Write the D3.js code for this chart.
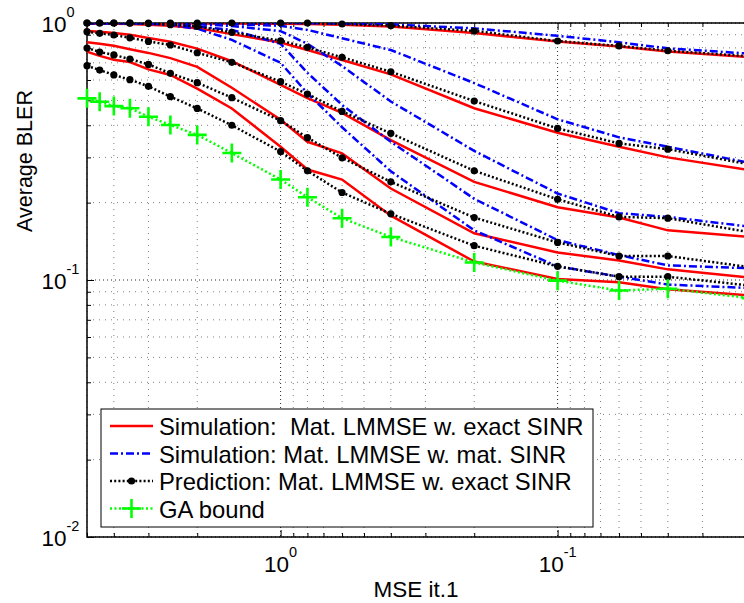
<!DOCTYPE html>
<html>
<head>
<meta charset="utf-8">
<script src="https://cdn.jsdelivr.net/npm/d3@7/dist/d3.min.js"></script>
<style>
  html, body { margin: 0; padding: 0; background: #fff; }
  svg { display: block; font-family: "Liberation Sans", Arial, Helvetica, sans-serif; }
  .pre { white-space: pre; }
</style>
</head>
<body>
<svg id="chart" width="744" height="603"></svg>
<script>
// Channel-estimation MSE after iteration 1 (x axis, decreasing to the right)
const mse = [5, 4.5, 4, 3.5, 3, 2.5, 2, 1.5, 1, 0.8, 0.6, 0.4, 0.2, 0.1, 0.06, 0.04, 0.02];

// Simulation: Mat. LMMSE w. exact SINR (five operating points)
const simExact = [
  [0.998, 0.998, 0.998, 0.998, 0.998, 0.997, 0.996, 0.995, 0.993, 0.99, 0.985, 0.97, 0.914, 0.848, 0.81, 0.775, 0.735],
  [0.995, 0.995, 0.993, 0.99, 0.985, 0.975, 0.955, 0.905, 0.84, 0.785, 0.718, 0.631, 0.466, 0.374, 0.33, 0.30, 0.267],
  [0.93, 0.925, 0.915, 0.90, 0.875, 0.846, 0.795, 0.71, 0.575, 0.51, 0.447, 0.35, 0.241, 0.192, 0.175, 0.156, 0.147],
  [0.841, 0.83, 0.815, 0.79, 0.765, 0.73, 0.675, 0.56, 0.42, 0.345, 0.311, 0.227, 0.152, 0.128, 0.119, 0.11, 0.102],
  [0.773, 0.745, 0.72, 0.705, 0.66, 0.628, 0.555, 0.465, 0.33, 0.269, 0.246, 0.178, 0.118, 0.101, 0.098, 0.092, 0.087]
];

// Simulation: Mat. LMMSE w. mat. SINR
const simMat = [
  [1, 1, 1, 1, 1, 1, 1, 1, 1, 0.998, 0.995, 0.988, 0.953, 0.892, 0.841, 0.797, 0.759],
  [1, 1, 1, 1, 1, 1, 0.997, 0.99, 0.975, 0.94, 0.872, 0.785, 0.584, 0.422, 0.359, 0.330, 0.285],
  [1, 1, 1, 1, 1, 0.998, 0.99, 0.973, 0.93, 0.83, 0.68, 0.495, 0.318, 0.217, 0.182, 0.176, 0.161],
  [1, 1, 1, 1, 0.998, 0.99, 0.97, 0.94, 0.83, 0.64, 0.48, 0.345, 0.207, 0.143, 0.125, 0.114, 0.111],
  [1, 1, 1, 1, 0.995, 0.98, 0.95, 0.86, 0.70, 0.533, 0.393, 0.265, 0.156, 0.113, 0.103, 0.096, 0.093]
];

// Prediction: Mat. LMMSE w. exact SINR
const prediction = [
  [1, 1, 1, 1, 1, 1, 1, 1, 1, 1, 0.991, 0.976, 0.931, 0.851, 0.814, 0.780, 0.741],
  [1, 1, 1, 0.998, 0.995, 0.985, 0.97, 0.92, 0.853, 0.804, 0.735, 0.646, 0.497, 0.389, 0.340, 0.323, 0.281],
  [0.925, 0.912, 0.898, 0.876, 0.848, 0.821, 0.766, 0.703, 0.591, 0.529, 0.453, 0.372, 0.266, 0.206, 0.176, 0.174, 0.153],
  [0.799, 0.771, 0.751, 0.724, 0.69, 0.637, 0.586, 0.512, 0.417, 0.358, 0.299, 0.241, 0.175, 0.140, 0.124, 0.124, 0.112],
  [0.682, 0.656, 0.628, 0.602, 0.567, 0.517, 0.465, 0.40, 0.316, 0.266, 0.219, 0.181, 0.136, 0.113, 0.103, 0.103, 0.095]
];

// GA bound
const gaBound = [0.509, 0.494, 0.475, 0.466, 0.432, 0.401, 0.367, 0.312, 0.246, 0.210, 0.174, 0.147, 0.117, 0.0994, 0.091, 0.0925, 0.085];

// Axis ticks
const xMajorTicks = [1, 0.1];
const xMinorTicks = [5, 4, 3, 2, 0.9, 0.8, 0.7, 0.6, 0.5, 0.4, 0.3, 0.2, 0.09, 0.08, 0.07, 0.06, 0.05, 0.04, 0.03, 0.02];
const xTickLabels = [{v: 1, base: "10", exp: "0"}, {v: 0.1, base: "10", exp: "-1"}];
const yMajorTicks = [1, 0.1, 0.01];
const yMinorTicks = [0.9, 0.8, 0.7, 0.6, 0.5, 0.4, 0.3, 0.2, 0.09, 0.08, 0.07, 0.06, 0.05, 0.04, 0.03, 0.02];
const yTickLabels = [{v: 1, base: "10", exp: "0"}, {v: 0.1, base: "10", exp: "-1"}, {v: 0.01, base: "10", exp: "-2"}];

const legendLabels = [
  "Simulation:  Mat. LMMSE w. exact SINR",
  "Simulation: Mat. LMMSE w. mat. SINR",
  "Prediction: Mat. LMMSE w. exact SINR",
  "GA bound"
];

const svg = d3.select("#chart");
const plotLeft = 87, plotTop = 23, plotBottom = 537, plotRight = 751.2;

const x = d3.scaleLog().domain([5, 0.02]).range([plotLeft, plotRight]);
const y = d3.scaleLog().domain([0.01, 1]).range([plotBottom, plotTop]);

// ---- grid ----
const grid = svg.append("g");
grid.selectAll(".gx").data(xMinorTicks).join("line")
  .attr("x1", d => x(d)).attr("x2", d => x(d)).attr("y1", plotTop).attr("y2", plotBottom)
  .attr("stroke", "#555").attr("stroke-width", 1).attr("stroke-dasharray", "1,5").attr("opacity", 0.75);
grid.selectAll(".gy").data(yMinorTicks).join("line")
  .attr("x1", plotLeft).attr("x2", plotRight).attr("y1", d => y(d)).attr("y2", d => y(d))
  .attr("stroke", "#555").attr("stroke-width", 1).attr("stroke-dasharray", "1,5").attr("opacity", 0.75);
grid.selectAll(".gX").data(xMajorTicks).join("line")
  .attr("x1", d => x(d)).attr("x2", d => x(d)).attr("y1", plotTop).attr("y2", plotBottom)
  .attr("stroke", "#000").attr("stroke-width", 1).attr("stroke-dasharray", "1,3").attr("opacity", 0.85);
grid.selectAll(".gY").data(yMajorTicks).join("line")
  .attr("x1", plotLeft).attr("x2", plotRight).attr("y1", d => y(d)).attr("y2", d => y(d))
  .attr("stroke", "#000").attr("stroke-width", 1).attr("stroke-dasharray", "1,3").attr("opacity", 0.85);

// ---- axes (ticks point inward, mirrored on top) ----
function styleAxis(g) {
  g.select(".domain").remove();
  g.selectAll(".tick line").attr("stroke", "#000").attr("stroke-width", 1);
  g.selectAll(".tick text").remove();
}
svg.append("g").attr("transform", `translate(0,${plotBottom})`)
  .call(d3.axisBottom(x).tickValues(xMajorTicks).tickSize(-7)).call(styleAxis);
svg.append("g").attr("transform", `translate(0,${plotBottom})`)
  .call(d3.axisBottom(x).tickValues(xMinorTicks).tickSize(-4)).call(styleAxis);
svg.append("g").attr("transform", `translate(0,${plotTop})`)
  .call(d3.axisTop(x).tickValues(xMajorTicks).tickSize(-7)).call(styleAxis);
svg.append("g").attr("transform", `translate(0,${plotTop})`)
  .call(d3.axisTop(x).tickValues(xMinorTicks).tickSize(-4)).call(styleAxis);
svg.append("g").attr("transform", `translate(${plotLeft},0)`)
  .call(d3.axisLeft(y).tickValues(yMajorTicks).tickSize(-7)).call(styleAxis);
svg.append("g").attr("transform", `translate(${plotLeft},0)`)
  .call(d3.axisLeft(y).tickValues(yMinorTicks).tickSize(-4)).call(styleAxis);

// axis box
svg.append("rect").attr("x", plotLeft).attr("y", plotTop)
  .attr("width", plotRight - plotLeft).attr("height", plotBottom - plotTop)
  .attr("fill", "none").attr("stroke", "#000").attr("stroke-width", 1.5);

// tick labels with superscript exponents
const labels = svg.append("g");
xTickLabels.forEach(t => {
  const tx = labels.append("text").attr("x", x(t.v)).attr("y", 571.5)
    .attr("text-anchor", "middle").attr("font-size", 22.5).attr("fill", "#000");
  tx.append("tspan").text(t.base);
  tx.append("tspan").attr("dy", -14.5).attr("font-size", 14.5).text(t.exp);
});
yTickLabels.forEach(t => {
  const ty = labels.append("text").attr("x", 41.5).attr("y", y(t.v) + 8.5)
    .attr("font-size", 22.5).attr("fill", "#000");
  ty.append("tspan").text(t.base);
  ty.append("tspan").attr("dy", -14.5).attr("font-size", 14.5).text(t.exp);
});

// axis titles
svg.append("text").attr("x", 416).attr("y", 597).attr("text-anchor", "middle")
  .attr("font-size", 22.5).text("MSE it.1");
svg.append("text").attr("transform", "translate(32,161) rotate(-90)")
  .attr("text-anchor", "middle").attr("font-size", 21.5).text("Average BLER");

// ---- data ----
svg.append("clipPath").attr("id", "plotArea").append("rect")
  .attr("x", plotLeft).attr("y", plotTop).attr("width", plotRight - plotLeft).attr("height", plotBottom - plotTop);
const plot = svg.append("g").attr("clip-path", "url(#plotArea)");
const markers = svg.append("g");

const line = d3.line().x((d, i) => x(mse[i])).y(d => y(d));

const styles = {
  red:   {stroke: "#ff0000", dash: null},
  blue:  {stroke: "#0000ff", dash: "8,3,2,3"},
  black: {stroke: "#000000", dash: "2,2.2"},
  green: {stroke: "#00ff00", dash: "2,2.5"}
};

function drawSeries(vals, st) {
  plot.append("path").datum(vals).attr("d", line)
    .attr("fill", "none").attr("stroke", st.stroke).attr("stroke-width", 2.5)
    .attr("stroke-dasharray", st.dash);
}

simExact.forEach(s => drawSeries(s, styles.red));
simMat.forEach(s => drawSeries(s, styles.blue));
prediction.forEach(s => {
  drawSeries(s, styles.black);
  markers.append("g").selectAll("circle").data(s).join("circle")
    .attr("cx", (d, i) => x(mse[i])).attr("cy", d => y(d)).attr("r", 3.6).attr("fill", "#000");
});
drawSeries(gaBound, styles.green);
const crossHalf = 9.5;
markers.append("g").selectAll("path").data(gaBound).join("path")
  .attr("d", (d, i) => {
    const cx = x(mse[i]), cy = y(d);
    return `M${cx - crossHalf},${cy}H${cx + crossHalf}M${cx},${cy - crossHalf}V${cy + crossHalf}`;
  })
  .attr("stroke", "#00ff00").attr("stroke-width", 2.6).attr("fill", "none");

// ---- legend ----
const lg = svg.append("g");
lg.append("rect").attr("x", 101).attr("y", 409).attr("width", 492).attr("height", 118)
  .attr("fill", "#fff").attr("stroke", "#000").attr("stroke-width", 1);
const legendStyles = [styles.red, styles.blue, styles.black, styles.green];
legendLabels.forEach((lab, i) => {
  const ly = 426 + i * 27.5;
  const st = legendStyles[i];
  lg.append("line").attr("x1", 110).attr("x2", 153).attr("y1", ly).attr("y2", ly)
    .attr("stroke", st.stroke).attr("stroke-width", 2.5).attr("stroke-dasharray", st.dash);
  if (i === 2) {
    lg.append("circle").attr("cx", 131.5).attr("cy", ly).attr("r", 3.6).attr("fill", "#000");
  }
  if (i === 3) {
    lg.append("path").attr("d", `M${131.5 - crossHalf},${ly}H${131.5 + crossHalf}M131.5,${ly - crossHalf}V${ly + crossHalf}`)
      .attr("stroke", "#00ff00").attr("stroke-width", 2.6);
  }
  lg.append("text").attr("class", "pre").attr("x", 159).attr("y", ly + 9)
    .attr("font-size", 23.8).attr("fill", "#000").text(lab);
});
</script>
</body>
</html>
